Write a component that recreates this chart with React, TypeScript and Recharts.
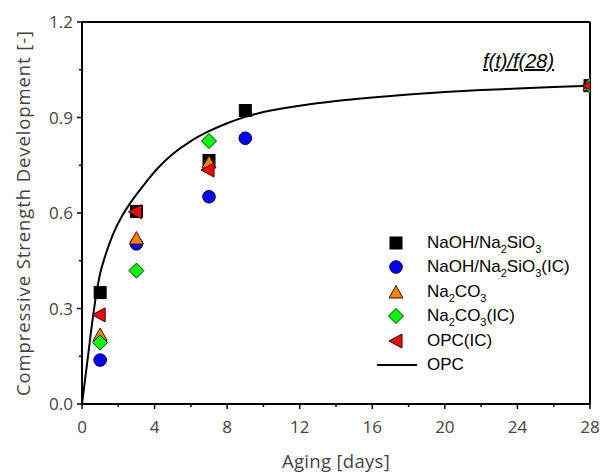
import React from 'react';
import {
  ComposedChart,
  Line,
  Scatter,
  XAxis,
  YAxis,
  ReferenceLine,
} from 'recharts';

type Pt = { t: number; f: number };

// measured strength ratios f(t)/f(28)
const naohSilicate: Pt[] = [
  { t: 1, f: 0.35 },
  { t: 3, f: 0.605 },
  { t: 7, f: 0.765 },
  { t: 9, f: 0.922 },
  { t: 28, f: 1.0 },
];
const naohSilicateIC: Pt[] = [
  { t: 1, f: 0.138 },
  { t: 3, f: 0.503 },
  { t: 7, f: 0.651 },
  { t: 9, f: 0.835 },
  { t: 28, f: 1.0 },
];
const carbonate: Pt[] = [
  { t: 1, f: 0.215 },
  { t: 3, f: 0.518 },
  { t: 7, f: 0.757 },
  { t: 28, f: 1.0 },
];
const carbonateIC: Pt[] = [
  { t: 1, f: 0.193 },
  { t: 3, f: 0.419 },
  { t: 7, f: 0.826 },
  { t: 28, f: 1.0 },
];
const opcIC: Pt[] = [
  { t: 1, f: 0.28 },
  { t: 3, f: 0.604 },
  { t: 7, f: 0.735 },
  { t: 28, f: 1.0 },
];

// OPC reference curve
const opcCurve: Pt[] = [
  { t: 0, f: 0 },
  { t: 0.33, f: 0.15 },
  { t: 0.6, f: 0.272 },
  { t: 0.8, f: 0.35 },
  { t: 1, f: 0.41 },
  { t: 1.25, f: 0.46 },
  { t: 1.5, f: 0.502 },
  { t: 1.76, f: 0.54 },
  { t: 2.2, f: 0.59 },
  { t: 2.72, f: 0.636 },
  { t: 3.5, f: 0.695 },
  { t: 4.2, f: 0.742 },
  { t: 5, f: 0.785 },
  { t: 6, f: 0.826 },
  { t: 7, f: 0.857 },
  { t: 8, f: 0.882 },
  { t: 9, f: 0.902 },
  { t: 10, f: 0.917 },
  { t: 12, f: 0.937 },
  { t: 14, f: 0.952 },
  { t: 16, f: 0.963 },
  { t: 18, f: 0.972 },
  { t: 20, f: 0.98 },
  { t: 22, f: 0.986 },
  { t: 24, f: 0.991 },
  { t: 26, f: 0.996 },
  { t: 28, f: 1.0 },
];

const yTicks = [0, 0.15, 0.3, 0.45, 0.6, 0.75, 0.9, 1.05, 1.2];
const xTicks = [0, 2, 4, 6, 8, 10, 12, 14, 16, 18, 20, 22, 24, 26, 28];

const tickFont = '"Open Sans", "DejaVu Sans", sans-serif';
const legendFont = '"Liberation Sans", Arial, sans-serif';

const Square = ({ cx, cy }: any) => (
  <rect x={cx - 6} y={cy - 6} width={12} height={12} fill="#000" stroke="#000" strokeWidth={1} />
);
const Circle = ({ cx, cy }: any) => (
  <circle cx={cx} cy={cy} r={6.3} fill="#0000ff" stroke="#000033" strokeWidth={1} />
);
const TriUp = ({ cx, cy }: any) => (
  <path
    d={`M${cx},${cy - 7.5} L${cx + 7},${cy + 5} L${cx - 7},${cy + 5} Z`}
    fill="#ff8000"
    stroke="#2a1500"
    strokeWidth={1}
  />
);
const Diamond = ({ cx, cy }: any) => (
  <path
    d={`M${cx},${cy - 7.5} L${cx + 7.5},${cy} L${cx},${cy + 7.5} L${cx - 7.5},${cy} Z`}
    fill="#00ff00"
    stroke="#002a00"
    strokeWidth={1}
  />
);
const TriLeft = ({ cx, cy }: any) => (
  <path
    d={`M${cx - 8},${cy} L${cx + 5},${cy - 7} L${cx + 5},${cy + 7} Z`}
    fill="#ff0000"
    stroke="#2a0000"
    strokeWidth={1}
  />
);

const YTick = ({ x, y, payload }: any) => {
  const v = payload.value as number;
  const major = Math.abs(Math.round(v / 0.3) * 0.3 - v) < 1e-6;
  return (
    <g>
      <line x1={x - (major ? 5 : 3)} x2={x} y1={y} y2={y} stroke="#000" strokeWidth={1.5} />
      {major && (
        <text x={x - 9} y={y} dy={6} textAnchor="end" fontSize={17} fill="#444" fontFamily={tickFont}>
          {v.toFixed(1)}
        </text>
      )}
    </g>
  );
};

const XTick = ({ x, y, payload }: any) => {
  const v = payload.value as number;
  const major = v % 4 === 0;
  return (
    <g>
      <line x1={x} x2={x} y1={y} y2={y + (major ? 5 : 3)} stroke="#000" strokeWidth={1.5} />
      {major && (
        <text x={x} y={y + 29} textAnchor="middle" fontSize={17} fill="#444" fontFamily={tickFont}>
          {v}
        </text>
      )}
    </g>
  );
};

const legendRows: { key: string; icon: React.ReactNode; label: React.ReactNode }[] = [
  { key: 'a', icon: <Square cx={20} cy={12} />, label: <>NaOH/Na<sub>2</sub>SiO<sub>3</sub></> },
  { key: 'b', icon: <Circle cx={20} cy={12} />, label: <>NaOH/Na<sub>2</sub>SiO<sub>3</sub>(IC)</> },
  { key: 'c', icon: <TriUp cx={20} cy={13} />, label: <>Na<sub>2</sub>CO<sub>3</sub></> },
  { key: 'd', icon: <Diamond cx={20} cy={12} />, label: <>Na<sub>2</sub>CO<sub>3</sub>(IC)</> },
  { key: 'e', icon: <TriLeft cx={21} cy={12} />, label: <>OPC(IC)</> },
  {
    key: 'f',
    icon: <line x1={1} x2={41} y1={12} y2={12} stroke="#000" strokeWidth={2} />,
    label: <>OPC</>,
  },
];

function ChartLegend() {
  return (
    <div
      style={{
        position: 'absolute',
        left: 376,
        top: 230.5,
        fontFamily: legendFont,
        fontSize: 17,
        color: '#000',
      }}
    >
      {legendRows.map((r) => (
        <div key={r.key} style={{ display: 'flex', alignItems: 'center', height: 24.5 }}>
          <svg width={42} height={24} style={{ marginRight: 9 }}>
            {r.icon}
          </svg>
          <span style={{ lineHeight: '24px', whiteSpace: 'nowrap' }}>{r.label}</span>
        </div>
      ))}
      <style>{`sub{font-size:11px;vertical-align:-5px;line-height:0}`}</style>
    </div>
  );
}

export default function App() {
  return (
    <div
      style={{
        position: 'absolute',
        left: 0,
        top: 0,
        width: 608,
        height: 475,
        background: '#fff',
        overflow: 'hidden',
      }}
    >
      <ComposedChart width={608} height={475} margin={{ top: 22, right: 18, left: 0, bottom: 0 }}>
        <XAxis
          type="number"
          dataKey="t"
          domain={[0, 28]}
          ticks={xTicks}
          interval={0}
          tick={<XTick />}
          tickSize={0}
          tickMargin={0}
          tickLine={false}
          height={71}
          axisLine={{ stroke: '#000', strokeWidth: 2 }}
          allowDataOverflow
          label={({ viewBox }: any) => (
            <text
              x={viewBox.x + viewBox.width / 2}
              y={viewBox.y + 64}
              textAnchor="middle"
              fontSize={18.5}
              letterSpacing={0.3}
              fill="#444"
              fontFamily={tickFont}
            >
              Aging [days]
            </text>
          )}
        />
        <YAxis
          type="number"
          domain={[0, 1.2]}
          ticks={yTicks}
          interval={0}
          tick={<YTick />}
          tickSize={0}
          tickMargin={0}
          tickLine={false}
          width={82}
          axisLine={{ stroke: '#000', strokeWidth: 2 }}
          allowDataOverflow
          label={({ viewBox }: any) => (
            <text
              x={0}
              y={0}
              transform={`translate(30, ${viewBox.y + viewBox.height / 2}) rotate(-90)`}
              textAnchor="middle"
              fontSize={18.5}
              letterSpacing={0.9}
              fill="#444"
              fontFamily={tickFont}
            >
              Compressive Strength Development [-]
            </text>
          )}
        />
        <ReferenceLine y={1.2} stroke="#000" strokeWidth={2} />
        <ReferenceLine x={28} stroke="#000" strokeWidth={2} />
        <Line
          data={opcCurve}
          dataKey="f"
          type="monotone"
          stroke="#000"
          strokeWidth={2}
          dot={false}
          activeDot={false}
          isAnimationActive={false}
        />
        <Scatter data={naohSilicate} dataKey="f" shape={<Square />} isAnimationActive={false} />
        <Scatter data={naohSilicateIC} dataKey="f" shape={<Circle />} isAnimationActive={false} />
        <Scatter data={carbonate} dataKey="f" shape={<TriUp />} isAnimationActive={false} />
        <Scatter data={carbonateIC} dataKey="f" shape={<Diamond />} isAnimationActive={false} />
        <Scatter data={opcIC} dataKey="f" shape={<TriLeft />} isAnimationActive={false} />
      </ComposedChart>
      <ChartLegend />
      <div
        style={{
          position: 'absolute',
          left: 483,
          top: 50,
          fontFamily: legendFont,
          fontSize: 20,
          fontStyle: 'italic',
          textDecoration: 'underline',
          color: '#000',
        }}
      >
        f(t)/f(28)
      </div>
    </div>
  );
}
